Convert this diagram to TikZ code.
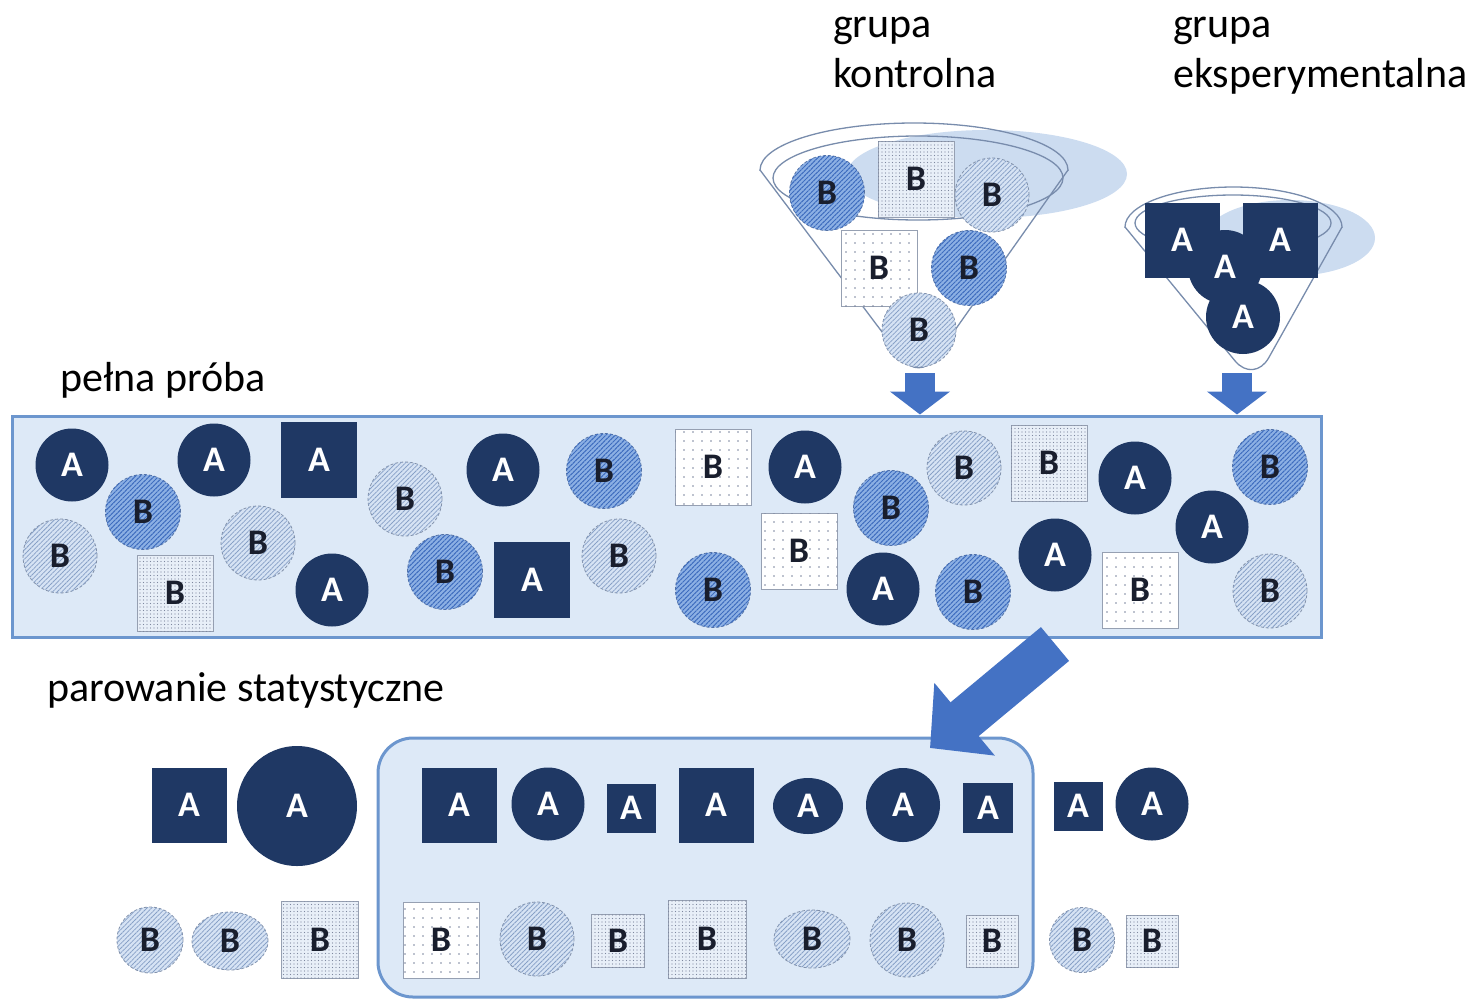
\documentclass[tikz,border=0pt]{standalone}
\usepackage{fontspec}
\setmainfont{Carlito}
\usepackage{xcolor}
\usepackage{tikz}
\usetikzlibrary{shapes}
\usetikzlibrary{shapes.geometric}
\usetikzlibrary{positioning}
\usetikzlibrary{arrows.meta}
\usetikzlibrary{patterns.meta}

\definecolor{navy}{RGB}{31,56,100}
\definecolor{midblue}{RGB}{140,176,228}
\definecolor{midstripe}{RGB}{62,108,190}
\definecolor{midedge}{RGB}{85,115,165}
\definecolor{lightblue}{RGB}{214,227,244}
\definecolor{lightstripe}{RGB}{135,160,198}
\definecolor{lightedge}{RGB}{130,145,170}
\definecolor{dotfill}{RGB}{232,239,248}
\definecolor{dotcol}{RGB}{125,135,158}
\definecolor{dotedge}{RGB}{150,160,178}
\definecolor{boxfill}{RGB}{221,233,247}
\definecolor{boxedge}{RGB}{108,150,206}
\definecolor{arrowblue}{RGB}{68,114,196}
\definecolor{funnelline}{RGB}{120,140,172}
\definecolor{shadowblue}{RGB}{204,220,240}
\definecolor{btext}{RGB}{25,30,45}

\begin{document}
\begin{tikzpicture}[
	x=1pt, y=-1pt,
	font=\fontsize{42}{50}\selectfont
]
\tikzset{
    itemnode/.style = {inner sep=0pt, font=\fontsize{36}{36}\selectfont\bfseries},
    acirc/.style = {itemnode, circle, fill=navy, text=white, minimum size=73pt},
    asq/.style = {itemnode, rectangle, fill=navy, text=white, minimum size=76pt},
    bmid/.style = {itemnode, circle, minimum size=75pt, text=btext, fill=midblue, draw=midedge, densely dashed, line width=0.8pt,
        postaction={pattern={Lines[angle=45,distance=3.3pt,line width=1pt]}, pattern color=midstripe}},
    blight/.style = {itemnode, circle, minimum size=74pt, text=btext, fill=lightblue, draw=lightedge, densely dashed, line width=0.8pt,
        postaction={pattern={Lines[angle=45,distance=3.3pt,line width=0.8pt]}, pattern color=lightstripe}},
    bdense/.style = {itemnode, rectangle, minimum size=76pt, text=btext, fill=dotfill, draw=dotedge, line width=1pt,
        postaction={pattern={Dots[radius=0.6pt,distance=3.5pt]}, pattern color=dotcol}},
    bsparse/.style = {itemnode, rectangle, minimum size=76pt, text=btext, fill=white, draw=dotedge, line width=1pt,
        postaction={pattern={Dots[radius=0.9pt,distance=9pt]}, pattern color=dotcol}},
    samplebox/.style = {draw=boxedge, fill=boxfill, line width=3pt, inner sep=0pt},
    funnel/.style = {draw=funnelline, line width=1.3pt},
    blockarrow/.style = {draw=arrowblue, line width=30pt, -{Triangle[length=23pt,width=59pt]}},
    label/.style = {inner sep=0pt, align=left, text=black}
}
\useasboundingbox (0,0) rectangle (1482,999);

% labels
\node[label, anchor=north west] (kontrolna) at (833,17) {grupa\\kontrolna};
\node[label, anchor=north west] (eksperymentalna) at (1173,17) {grupa\\eksperymentalna};
\node[label, anchor=base west] (pelna) at (60,391) {pełna próba};
\node[label, anchor=base west] (parowanie) at (47,701) {parowanie statystyczne};

% grupa kontrolna
\fill[white, rounded corners=28pt] (760,170) -- (919,381) -- (1068,170) -- cycle;
\fill[white] (914,170) ellipse [x radius=154pt, y radius=47pt];
\fill[shadowblue] (987,174) ellipse [x radius=140pt, y radius=44pt];
\begin{scope}
  \clip (740,100) rectangle (1090,170);
  \draw[funnel] (914,170) ellipse [x radius=154pt, y radius=47pt];
\end{scope}
\draw[funnel, rounded corners=28pt] (760,170) -- (919,381) -- (1068,170);
\draw[funnel] (918,178) ellipse [x radius=145pt, y radius=42pt];
\node[bmid] (k1) at (827,193) {B};
\node[bdense] (k2) at (916,179) {B};
\node[blight] (k3) at (992,195) {B};
\node[bsparse] (k4) at (879,268) {B};
\node[bmid] (k5) at (969,268) {B};
\node[blight] (k6) at (919,330) {B};

% grupa eksperymentalna
\fill[white, rounded corners=30pt] (1125,227) -- (1254,384) -- (1342,227) -- cycle;
\fill[white] (1233.5,227) ellipse [x radius=108.5pt, y radius=40pt];
\fill[shadowblue] (1290,238) ellipse [x radius=85pt, y radius=38pt];
\begin{scope}
  \clip (1100,150) rectangle (1360,227);
  \draw[funnel] (1233.5,227) ellipse [x radius=108.5pt, y radius=40pt];
\end{scope}
\draw[funnel, rounded corners=30pt] (1125,227) -- (1254,384) -- (1342,227);
\draw[funnel] (1233,223) ellipse [x radius=98pt, y radius=28pt];
\node[asq, minimum size=75pt] (e1) at (1182,240) {};
\node[asq, minimum size=75pt] (e2) at (1280,240) {};
\node[acirc, minimum size=74pt] (e3) at (1225,267) {};
\node[acirc, minimum size=74pt] (e4) at (1243,317) {A};
\node[itemnode, text=white] at (e1) {A};
\node[itemnode, text=white] at (e2) {A};
\node[itemnode, text=white] at (e3) {A};

% pelna proba
\node[samplebox, minimum width=1309pt, minimum height=221pt] (sample) at (666.5,526.5) {};
\node[acirc] (p1) at (72,465) {A};
\node[acirc] (p2) at (214,460) {A};
\node[asq] (p3) at (319,460) {A};
\node[bmid] (p4) at (143,512) {B};
\node[blight] (p5) at (60,556) {B};
\node[bdense] (p6) at (175,593) {B};
\node[blight] (p7) at (258,543) {B};
\node[acirc] (p8) at (332,590) {A};
\node[blight] (p9) at (405,499) {B};
\node[acirc] (p10) at (503,470) {A};
\node[bmid] (p11) at (604,471) {B};
\node[bmid] (p12) at (445,572) {B};
\node[asq] (p13) at (532,580) {A};
\node[blight] (p14) at (619,556) {B};
\node[bsparse] (p15) at (713,467) {B};
\node[acirc] (p16) at (805,467) {A};
\node[bmid] (p17) at (713,590) {B};
\node[bsparse] (p18) at (799,551) {B};
\node[bmid] (p19) at (891,508) {B};
\node[acirc] (p20) at (883,589) {A};
\node[blight] (p21) at (964,468) {B};
\node[bmid] (p22) at (973,592) {B};
\node[bdense] (p23) at (1049,463) {B};
\node[acirc] (p24) at (1135,478) {A};
\node[acirc] (p25) at (1055,555) {A};
\node[bsparse] (p26) at (1140,590) {B};
\node[acirc] (p27) at (1212,527) {A};
\node[bmid] (p28) at (1270,467) {B};
\node[blight] (p29) at (1270,591) {B};

% strzalki
\coordinate (ktop) at (920,373);
\coordinate (etop) at (1237,373);
\draw[blockarrow] (ktop) -- (ktop |- sample.north);
\draw[blockarrow] (etop) -- (etop |- sample.north);

% parowanie statystyczne
\node[samplebox, rounded corners=35pt, minimum width=655pt, minimum height=259pt] (matched) at (705.5,867.5) {};
\coordinate (dstart) at (1055,644);
\coordinate (dtip) at (930,748);
\draw[arrowblue, line width=44pt, -{Triangle[length=45pt,width=92pt]}] (dstart) -- (dtip);

\node[asq, minimum size=75pt] (l1) at (189,805) {A};
\node[acirc, minimum size=120pt] (l2) at (297,806) {A};
\node[blight, minimum width=63pt, minimum height=66pt] (l3) at (150,940) {B};
\node[blight, ellipse, minimum width=76pt, minimum height=58pt] (l4) at (230,941) {B};
\node[bdense, minimum size=77pt] (l5) at (320,940) {B};

\node[asq, minimum size=75pt] (m1) at (459,805) {A};
\node[acirc] (m2) at (548,804) {A};
\node[asq, minimum size=49pt] (m3) at (631,808) {A};
\node[asq, minimum size=75pt] (m4) at (716,805) {A};
\node[acirc, ellipse, minimum width=70pt, minimum height=56pt] (m5) at (808,806) {A};
\node[acirc, minimum size=74pt] (m6) at (903,805) {A};
\node[asq, minimum size=50pt] (m7) at (988,808) {A};
\node[bsparse] (m8) at (441,940) {B};
\node[blight] (m9) at (537,939) {B};
\node[bdense, minimum size=53pt] (m10) at (618,941) {B};
\node[bdense, minimum size=78pt] (m11) at (707,939) {B};
\node[blight, ellipse, minimum width=76pt, minimum height=58pt] (m12) at (812,939) {B};
\node[blight] (m13) at (907,940) {B};
\node[bdense, minimum size=52pt] (m14) at (992,941) {B};

\node[asq, minimum size=49pt] (r1) at (1078,806) {A};
\node[acirc] (r2) at (1152,804) {A};
\node[blight, minimum size=65pt] (r3) at (1082,940) {B};
\node[bdense, minimum size=52pt] (r4) at (1152,941) {B};
\end{tikzpicture}
\end{document}
